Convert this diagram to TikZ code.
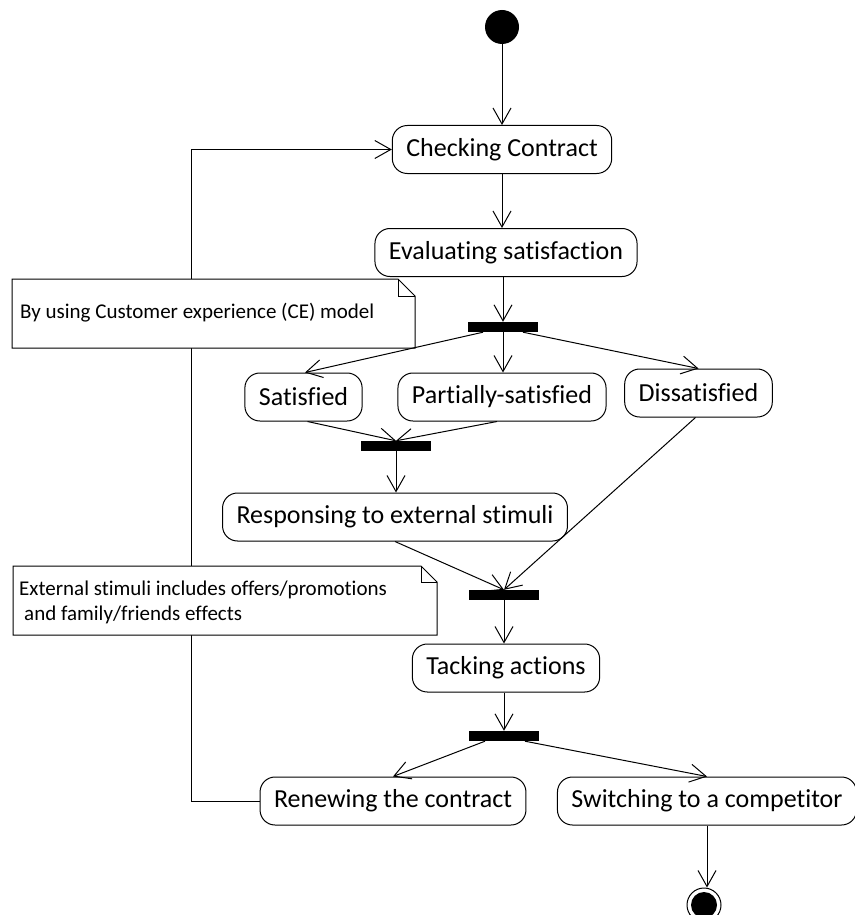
\documentclass[tikz,border=0pt]{standalone}
\usepackage{fontspec}
\setmainfont{Carlito}[Ligatures={NoCommon}]
\usetikzlibrary{arrows.meta,calc}
\begin{document}
\begin{tikzpicture}[x=1pt,y=-1pt,
  act/.style={draw, line width=1pt, rounded corners=15pt, fill=white,
    font=\fontsize{26}{30}\selectfont, inner xsep=14pt, inner ysep=0pt,
    minimum height=48pt},
  bar/.style={fill=black, inner sep=0pt, minimum width=70pt, minimum height=10pt},
  flow/.style={line width=1pt, -{Straight Barb[length=16pt,width=18pt,line width=1pt]}},
  noteshape/.style={draw, line width=1pt, fill=white},
  notetext/.style={inner sep=0pt, font=\fontsize{21}{25}\selectfont, anchor=base west}
]
\useasboundingbox (0,0) rectangle (854,915);

% start and end
\node[circle, fill=black, minimum size=34pt, inner sep=0pt] (start) at (502,27) {};
\node[circle, draw, line width=1pt, minimum size=34pt, inner sep=0pt] (stop) at (704,905) {};
\node[circle, fill=black, minimum size=26pt, inner sep=0pt] at (stop) {};

% actions
\node[act] (check) at (502,149.5) {Checking Contract};
\node[act] (eval)  at (506,252.5) {Evaluating satisfaction};
\node[act] (sat)   at (303.5,397) {Satisfied};
\node[act] (part)  at (502,397)   {Partially-satisfied};
\node[act] (diss)  at (698.5,393) {Dissatisfied};
\node[act] (resp)  at (395,517)   {Responsing to external stimuli};
\node[act] (tack)  at (506,668)   {Tacking actions};
\node[act] (renew) at (393,801)   {Renewing the contract};
\node[act] (switch) at (707,801)  {Switching to a competitor};

% fork / join bars
\node[bar] (fork1) at (503,327) {};
\node[bar] (join1) at (396,446) {};
\node[bar] (join2) at (504,595) {};
\node[bar] (fork2) at (504,736) {};

% loop back to the contract check (runs behind the notes)
\coordinate (loopx) at (191,0);
\draw[flow] (renew.west) -- (renew.west -| loopx) -- (check.west -| loopx) -- (check.west);

% notes
\coordinate (n1nw) at (12,279);
\coordinate (n1se) at (415,348);
\draw[noteshape] (n1nw) -- ($(n1nw -| n1se)+(-17,0)$) -- ($(n1nw -| n1se)+(0,17)$)
  -- (n1se) -- (n1nw |- n1se) -- cycle;
\draw[line width=1pt] ($(n1nw -| n1se)+(-17,0)$) -- ($(n1nw -| n1se)+(-17,17)$) -- ($(n1nw -| n1se)+(0,17)$);
\node[notetext] (note1) at (20,318) {By using Customer experience (CE) model};

\coordinate (n2nw) at (13,566);
\coordinate (n2se) at (437,635);
\draw[noteshape] (n2nw) -- ($(n2nw -| n2se)+(-16,0)$) -- ($(n2nw -| n2se)+(0,16)$)
  -- (n2se) -- (n2nw |- n2se) -- cycle;
\draw[line width=1pt] ($(n2nw -| n2se)+(-16,0)$) -- ($(n2nw -| n2se)+(-16,16)$) -- ($(n2nw -| n2se)+(0,16)$);
\node[notetext] (note2a) at (19,595) {External stimuli includes offers/promotions};
\node[notetext] (note2b) at (19,620) {\hspace*{5pt}and family/friends effects};

% control flow
\draw[flow] (start) -- (start |- check.north);
\draw[flow] (check.south) -- (check.south |- eval.north);
\draw[flow] (eval.south -| fork1) -- (fork1.north);
\draw[flow] ([xshift=-20pt]fork1.south) -- ([xshift=1.5pt]sat.north);
\draw[flow] (fork1.south) -- (fork1.south |- part.north);
\draw[flow] ([xshift=20pt]fork1.south) -- (diss.north);
\draw[flow] ([xshift=4pt]sat.south) -- (join1.north);
\draw[flow] ([xshift=-5pt]part.south) -- (join1.north);
\draw[flow] (join1.south) -- (join1.south |- resp.north);
\draw[flow] (resp.south) -- (join2.north);
\draw[flow] ([xshift=-3pt]diss.south) -- (join2.north);
\draw[flow] (join2.south) -- (join2.south |- tack.north);
\draw[flow] (tack.south -| fork2) -- (fork2.north);
\draw[flow] ([xshift=-19pt]fork2.south) -- (renew.north);
\draw[flow] ([xshift=21pt]fork2.south) -- (switch.north);
\draw[flow] (switch.south) -- (switch.south |- stop.north);
\end{tikzpicture}
\end{document}
